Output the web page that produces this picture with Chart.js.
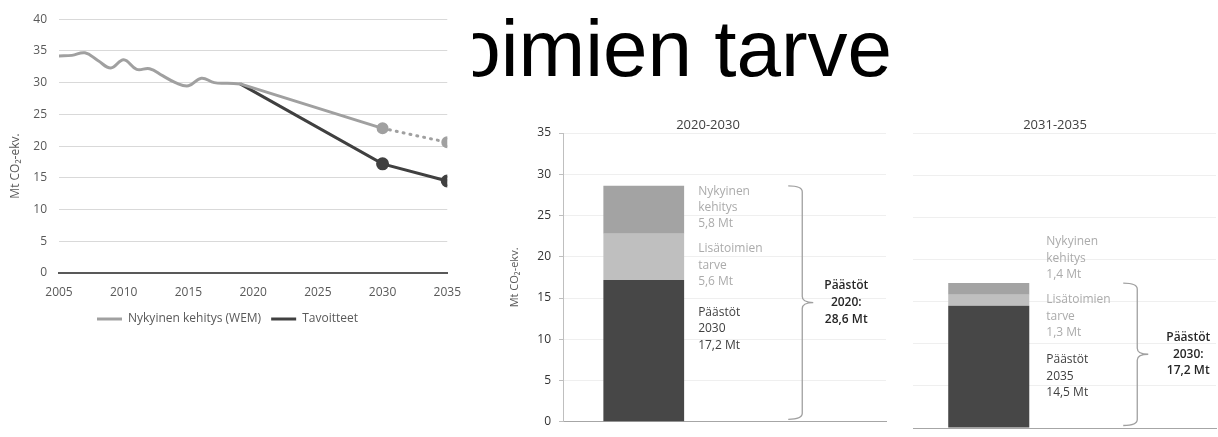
<!DOCTYPE html>
<html><head><meta charset="utf-8">
<script src="https://cdn.jsdelivr.net/npm/chart.js@4/dist/chart.umd.min.js"></script>
<style>
html,body{margin:0;padding:0;background:#fff;width:1218px;height:437px;overflow:hidden;position:relative}
#slideTitle{position:absolute;left:314px;top:9px;font-family:"Liberation Sans",Arial,sans-serif;font-size:80px;line-height:80px;color:#000;white-space:nowrap;z-index:0}
.box{position:absolute}
#lineCanvas{left:0;top:0;background:#fff;z-index:2}
#bar1Canvas{left:500px;top:110px;z-index:1}
#bar2Canvas{left:890px;top:110px;z-index:1}
</style></head>
<body>
<div id="slideTitle">lisätoimien tarve</div>
<canvas id="lineCanvas" class="box" width="473" height="335"></canvas>
<canvas id="bar1Canvas" class="box" width="390" height="327"></canvas>
<canvas id="bar2Canvas" class="box" width="328" height="327"></canvas>
<script>
// ---------- DATA ----------
const seriesNames = ['Nykyinen kehitys (WEM)', 'Tavoitteet'];
const histYears = [2005,2006,2007,2008,2009,2010,2011,2012,2013,2014,2015,2016,2017,2018,2019];
const wemHistory = [34.2,34.3,34.7,33.5,32.3,33.6,32.1,32.2,31.1,30.0,29.5,30.7,30.0,29.9,29.8];
const projYears = [2019, 2030, 2035];
const wemProjection = [29.8, 22.8, 20.6];
const targetValues = [29.8, 17.2, 14.5];
const yAxisTitle = 'Mt CO₂-ekv.';

const periods = ['2020-2030', '2031-2035'];
const startYears = ['2020', '2030'];
const endYears = ['2030', '2035'];
const emissionsEnd = [17.2, 14.5];      // Päästöt (end year)
const additionalNeed = [5.6, 1.3];      // Lisätoimien tarve
const currentTrend = [5.8, 1.4];        // Nykyinen kehitys
const emissionsStart = [28.6, 17.2];    // Päästöt (start year), brace totals
const segmentWords = [['Päästöt'], ['Lisätoimien', 'tarve'], ['Nykyinen', 'kehitys']];

// ---------- STYLE ----------
const FONT = '"Open Sans", "DejaVu Sans", sans-serif';
const WEM_COLOR = '#a0a0a0';
const TGT_COLOR = '#404040';
const BAR_COLORS = ['#474747', '#bfbfbf', '#a3a3a3'];
const fmt = v => v.toFixed(1).replace('.', ',') + ' Mt';

// ---------- LINE CHART ----------
const yTitlePlugin = {
  id: 'yTitle',
  afterDraw(chart) {
    const ctx = chart.ctx;
    ctx.save();
    ctx.translate(15.5, 166);
    ctx.rotate(-Math.PI / 2);
    ctx.font = '12px ' + FONT;
    ctx.fillStyle = '#595959';
    ctx.textAlign = 'center';
    ctx.textBaseline = 'middle';
    ctx.fillText(yAxisTitle, 0, 0);
    ctx.restore();
  }
};

new Chart(document.getElementById('lineCanvas'), {
  type: 'line',
  data: {
    datasets: [
      {
        label: seriesNames[0],
        data: histYears.map((x, i) => ({x, y: wemHistory[i]})),
        borderColor: WEM_COLOR, backgroundColor: WEM_COLOR,
        borderWidth: 3, tension: 0.4, pointRadius: 0, fill: false
      },
      {
        label: seriesNames[0] + ' (projektio)',
        data: projYears.map((x, i) => ({x, y: wemProjection[i]})),
        borderColor: WEM_COLOR, backgroundColor: WEM_COLOR,
        pointBackgroundColor: WEM_COLOR, pointBorderColor: WEM_COLOR,
        borderWidth: 3, tension: 0, borderCapStyle: 'round',
        pointRadius: c => c.dataIndex > 0 ? 4.5 : 0,
        segment: { borderDash: c => c.p0DataIndex === 1 ? [1, 6] : undefined },
        fill: false
      },
      {
        label: seriesNames[1],
        data: projYears.map((x, i) => ({x, y: targetValues[i]})),
        borderColor: TGT_COLOR, backgroundColor: TGT_COLOR,
        pointBackgroundColor: TGT_COLOR, pointBorderColor: TGT_COLOR,
        borderWidth: 3, tension: 0,
        pointRadius: c => c.dataIndex > 0 ? 5 : 0,
        fill: false
      }
    ]
  },
  options: {
    responsive: false, animation: false,
    layout: { padding: { top: 16, right: 18, left: 0, bottom: 0 } },
    scales: {
      x: {
        type: 'linear', min: 2005, max: 2035,
        ticks: { stepSize: 5, color: '#595959', font: { size: 12, family: FONT }, padding: 12, callback: v => String(v) },
        grid: { display: false, drawTicks: false },
        border: { color: '#595959', width: 2 },
        afterFit: s => { s.height = 30; }
      },
      y: {
        min: 0, max: 40,
        ticks: { stepSize: 5, color: '#595959', font: { size: 12, family: FONT }, padding: 12 },
        grid: { color: '#d9d9d9', drawTicks: false },
        border: { display: false },
        afterFit: s => { s.width = 59; }
      }
    },
    plugins: {
      legend: {
        position: 'bottom',
        labels: {
          boxWidth: 25, boxHeight: 3, padding: 10, color: '#595959',
          font: { size: 12, family: FONT },
          generateLabels: chart => Chart.defaults.plugins.legend.labels.generateLabels(chart)
            .filter(l => l.datasetIndex !== 1)
            .map(l => Object.assign(l, { fillStyle: l.strokeStyle, lineWidth: 0, lineDash: [] }))
        }
      },
      tooltip: { enabled: false }
    }
  },
  plugins: [yTitlePlugin]
});

// ---------- BAR PANELS ----------
const annotPlugin = {
  id: 'annot',
  afterDatasetsDraw(chart, args, o) {
    const ctx = chart.ctx;
    const {x, y} = chart.scales;
    const i = o.index;
    ctx.save();
    // panel title
    ctx.font = '13px ' + FONT;
    ctx.fillStyle = '#404040';
    ctx.textAlign = 'center';
    ctx.textBaseline = 'middle';
    ctx.fillText(periods[i], o.titleX, 15.5);

    // segment labels
    const bar = chart.getDatasetMeta(0).data[0];
    const barRight = bar.x + bar.width / 2;
    const values = [emissionsEnd[i], additionalNeed[i], currentTrend[i]];
    ctx.textAlign = 'left';
    ctx.font = '12px ' + FONT;
    values.forEach((v, k) => {
      const lines = k === 0 ? [segmentWords[0][0], endYears[i], fmt(v)] : [...segmentWords[k], fmt(v)];
      ctx.fillStyle = k === 0 ? '#404040' : '#ababab';
      const y0 = y.getPixelForValue(o.labelAt[k]);
      lines.forEach((t, j) => ctx.fillText(t, barRight + o.labelDx, y0 + j * 16.4));
    });

    // brace
    const xv = x.getPixelForValue(1) - 3;
    const top = y.getPixelForValue(emissionsStart[i]);
    const bot = y.getPixelForValue(0) - 2.5;
    const mid = (top + bot) / 2;
    const hook = 14, tip = 11, r = 6;
    ctx.beginPath();
    ctx.moveTo(xv - hook, top);
    ctx.quadraticCurveTo(xv, top, xv, top + r);
    ctx.lineTo(xv, mid - r);
    ctx.quadraticCurveTo(xv, mid, xv + tip, mid);
    ctx.moveTo(xv + tip, mid);
    ctx.quadraticCurveTo(xv, mid, xv, mid + r);
    ctx.lineTo(xv, bot - r);
    ctx.quadraticCurveTo(xv, bot, xv - hook, bot);
    ctx.strokeStyle = '#a0a0a0';
    ctx.lineWidth = 1.3;
    ctx.stroke();

    // brace label
    ctx.textAlign = 'center';
    ctx.fillStyle = '#262626';
    ctx.font = '600 12px ' + FONT;
    const bl = ['Päästöt', startYears[i] + ':', fmt(emissionsStart[i])];
    bl.forEach((t, j) => ctx.fillText(t, xv + o.braceLabelDx, mid + (j - 1) * 16.6));
    ctx.restore();
  }
};

function makePanel(canvasId, i, opt) {
  const showY = opt.showY;
  return new Chart(document.getElementById(canvasId), {
    type: 'bar',
    data: {
      labels: [periods[i], ''],
      datasets: [
        { label: 'Päästöt ' + endYears[i], data: [emissionsEnd[i], null], backgroundColor: BAR_COLORS[0] },
        { label: 'Lisätoimien tarve', data: [additionalNeed[i], null], backgroundColor: BAR_COLORS[1] },
        { label: 'Nykyinen kehitys', data: [currentTrend[i], null], backgroundColor: BAR_COLORS[2] }
      ]
    },
    options: {
      responsive: false, animation: false,
      layout: { padding: opt.padding },
      datasets: { bar: { barPercentage: opt.barPct, categoryPercentage: 1, borderWidth: 0 } },
      scales: {
        x: {
          stacked: true,
          ticks: { display: false },
          grid: { display: false, drawTicks: false },
          border: { color: '#a6a6a6', width: 1 },
          afterFit: s => { s.height = 0; }
        },
        y: {
          stacked: true, min: 0, max: 35,
          ticks: { display: showY, stepSize: 5, padding: 8, color: '#333333', font: { size: 12, family: FONT } },
          grid: { color: '#efefef', tickColor: '#bfbfbf', tickLength: 4, drawTicks: showY },
          border: { display: showY, color: '#bfbfbf' },
          title: { display: showY, text: yAxisTitle, color: '#595959', font: { size: 11, family: FONT }, padding: { top: 8, bottom: 0 } },
          afterFit: s => { s.width = opt.yWidth; }
        }
      },
      plugins: {
        legend: { display: false },
        tooltip: { enabled: false },
        annot: { index: i, titleX: opt.titleX, labelDx: opt.labelDx, labelAt: opt.labelAt, braceLabelDx: opt.braceLabelDx }
      }
    },
    plugins: [annotPlugin]
  });
}

makePanel('bar1Canvas', 0, {
  showY: true, yWidth: 63, padding: { left: 0, right: 4, top: 23, bottom: 9 },
  barPct: 0.5, titleX: 208, labelDx: 14, labelAt: [13.25, 20.95, 27.95], braceLabelDx: 44
});
makePanel('bar2Canvas', 1, {
  showY: false, yWidth: 0, padding: { left: 23, right: 2, top: 23, bottom: 9 },
  barPct: 0.535, titleX: 165, labelDx: 17, labelAt: [8.1, 15.2, 22.1], braceLabelDx: 51
});
</script>
</body></html>
